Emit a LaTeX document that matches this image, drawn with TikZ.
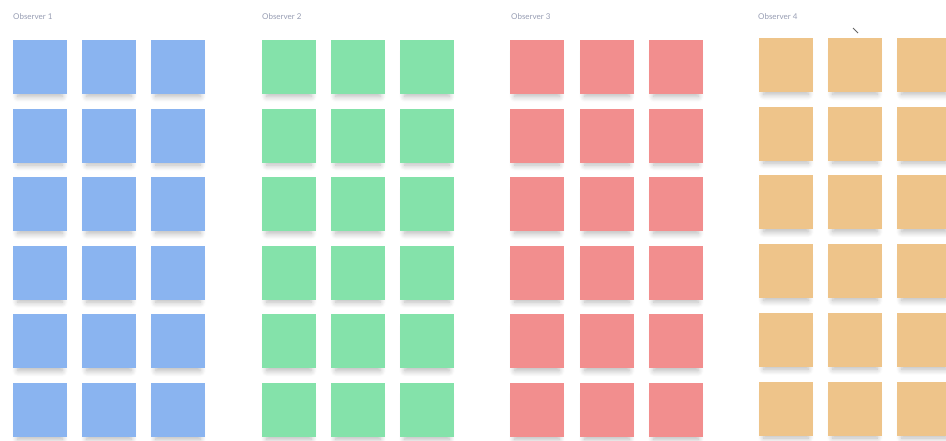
\documentclass[tikz,border=0pt]{standalone}
\usepackage{fontspec}
\setmainfont{Lato}
\usetikzlibrary{shadows.blur}
\definecolor{obsblue}{RGB}{138,180,240}
\definecolor{obsgreen}{RGB}{132,226,170}
\definecolor{obsred}{RGB}{242,142,142}
\definecolor{obsorange}{RGB}{238,196,138}
\definecolor{labelgray}{RGB}{150,156,178}
\begin{document}
\begin{tikzpicture}[x=1pt,y=-1pt,
	every node/.style={inner sep=0pt},
	square/.style={minimum size=54pt,
		blur shadow={shadow xshift=0pt,shadow yshift=-9pt,shadow scale=0.82,shadow blur radius=7pt,shadow blur steps=8,shadow opacity=28}},
	title/.style={anchor=west,font=\fontsize{8}{9}\selectfont,text=labelgray}
	]
	\useasboundingbox (0,0) rectangle (946,440);
	\node[title]  (obs1) at (13, 17)  {Observer 1};
	\node[title]  (obs2) at (262, 17)  {Observer 2};
	\node[title]  (obs3) at (511, 17)  {Observer 3};
	\node[title]  (obs4) at (758, 17)  {Observer 4};
	\node[square,fill=obsblue]  (1-1) at (40, 67)  {};
	\node[square,fill=obsblue]  (1-2) at (109, 67)  {};
	\node[square,fill=obsblue]  (1-3) at (178, 67)  {};
	\node[square,fill=obsblue]  (1-4) at (40, 135.6)  {};
	\node[square,fill=obsblue]  (1-5) at (109, 135.6)  {};
	\node[square,fill=obsblue]  (1-6) at (178, 135.6)  {};
	\node[square,fill=obsblue]  (1-7) at (40, 204.2)  {};
	\node[square,fill=obsblue]  (1-8) at (109, 204.2)  {};
	\node[square,fill=obsblue]  (1-9) at (178, 204.2)  {};
	\node[square,fill=obsblue]  (1-10) at (40, 272.8)  {};
	\node[square,fill=obsblue]  (1-11) at (109, 272.8)  {};
	\node[square,fill=obsblue]  (1-12) at (178, 272.8)  {};
	\node[square,fill=obsblue]  (1-13) at (40, 341.4)  {};
	\node[square,fill=obsblue]  (1-14) at (109, 341.4)  {};
	\node[square,fill=obsblue]  (1-15) at (178, 341.4)  {};
	\node[square,fill=obsblue]  (1-16) at (40, 410)  {};
	\node[square,fill=obsblue]  (1-17) at (109, 410)  {};
	\node[square,fill=obsblue]  (1-18) at (178, 410)  {};
	\node[square,fill=obsgreen]  (2-1) at (289, 67)  {};
	\node[square,fill=obsgreen]  (2-2) at (358, 67)  {};
	\node[square,fill=obsgreen]  (2-3) at (427, 67)  {};
	\node[square,fill=obsgreen]  (2-4) at (289, 135.6)  {};
	\node[square,fill=obsgreen]  (2-5) at (358, 135.6)  {};
	\node[square,fill=obsgreen]  (2-6) at (427, 135.6)  {};
	\node[square,fill=obsgreen]  (2-7) at (289, 204.2)  {};
	\node[square,fill=obsgreen]  (2-8) at (358, 204.2)  {};
	\node[square,fill=obsgreen]  (2-9) at (427, 204.2)  {};
	\node[square,fill=obsgreen]  (2-10) at (289, 272.8)  {};
	\node[square,fill=obsgreen]  (2-11) at (358, 272.8)  {};
	\node[square,fill=obsgreen]  (2-12) at (427, 272.8)  {};
	\node[square,fill=obsgreen]  (2-13) at (289, 341.4)  {};
	\node[square,fill=obsgreen]  (2-14) at (358, 341.4)  {};
	\node[square,fill=obsgreen]  (2-15) at (427, 341.4)  {};
	\node[square,fill=obsgreen]  (2-16) at (289, 410)  {};
	\node[square,fill=obsgreen]  (2-17) at (358, 410)  {};
	\node[square,fill=obsgreen]  (2-18) at (427, 410)  {};
	\node[square,fill=obsred]  (3-1) at (537, 67)  {};
	\node[square,fill=obsred]  (3-2) at (607, 67)  {};
	\node[square,fill=obsred]  (3-3) at (676, 67)  {};
	\node[square,fill=obsred]  (3-4) at (537, 135.6)  {};
	\node[square,fill=obsred]  (3-5) at (607, 135.6)  {};
	\node[square,fill=obsred]  (3-6) at (676, 135.6)  {};
	\node[square,fill=obsred]  (3-7) at (537, 204.2)  {};
	\node[square,fill=obsred]  (3-8) at (607, 204.2)  {};
	\node[square,fill=obsred]  (3-9) at (676, 204.2)  {};
	\node[square,fill=obsred]  (3-10) at (537, 272.8)  {};
	\node[square,fill=obsred]  (3-11) at (607, 272.8)  {};
	\node[square,fill=obsred]  (3-12) at (676, 272.8)  {};
	\node[square,fill=obsred]  (3-13) at (537, 341.4)  {};
	\node[square,fill=obsred]  (3-14) at (607, 341.4)  {};
	\node[square,fill=obsred]  (3-15) at (676, 341.4)  {};
	\node[square,fill=obsred]  (3-16) at (537, 410)  {};
	\node[square,fill=obsred]  (3-17) at (607, 410)  {};
	\node[square,fill=obsred]  (3-18) at (676, 410)  {};
	\node[square,fill=obsorange]  (4-1) at (786, 65)  {};
	\node[square,fill=obsorange]  (4-2) at (855, 65)  {};
	\node[square,fill=obsorange]  (4-3) at (924, 65)  {};
	\node[square,fill=obsorange]  (4-4) at (786, 133.7)  {};
	\node[square,fill=obsorange]  (4-5) at (855, 133.7)  {};
	\node[square,fill=obsorange]  (4-6) at (924, 133.7)  {};
	\node[square,fill=obsorange]  (4-7) at (786, 202.4)  {};
	\node[square,fill=obsorange]  (4-8) at (855, 202.4)  {};
	\node[square,fill=obsorange]  (4-9) at (924, 202.4)  {};
	\node[square,fill=obsorange]  (4-10) at (786, 271.1)  {};
	\node[square,fill=obsorange]  (4-11) at (855, 271.1)  {};
	\node[square,fill=obsorange]  (4-12) at (924, 271.1)  {};
	\node[square,fill=obsorange]  (4-13) at (786, 339.8)  {};
	\node[square,fill=obsorange]  (4-14) at (855, 339.8)  {};
	\node[square,fill=obsorange]  (4-15) at (924, 339.8)  {};
	\node[square,fill=obsorange]  (4-16) at (786, 408.5)  {};
	\node[square,fill=obsorange]  (4-17) at (855, 408.5)  {};
	\node[square,fill=obsorange]  (4-18) at (924, 408.5)  {};
	\coordinate (tick1) at (853, 28);
	\coordinate (tick2) at (858, 33);
	\path[draw,gray!80!black,line width=0.8pt]  (tick1) -- (tick2);
\end{tikzpicture}
\end{document}
